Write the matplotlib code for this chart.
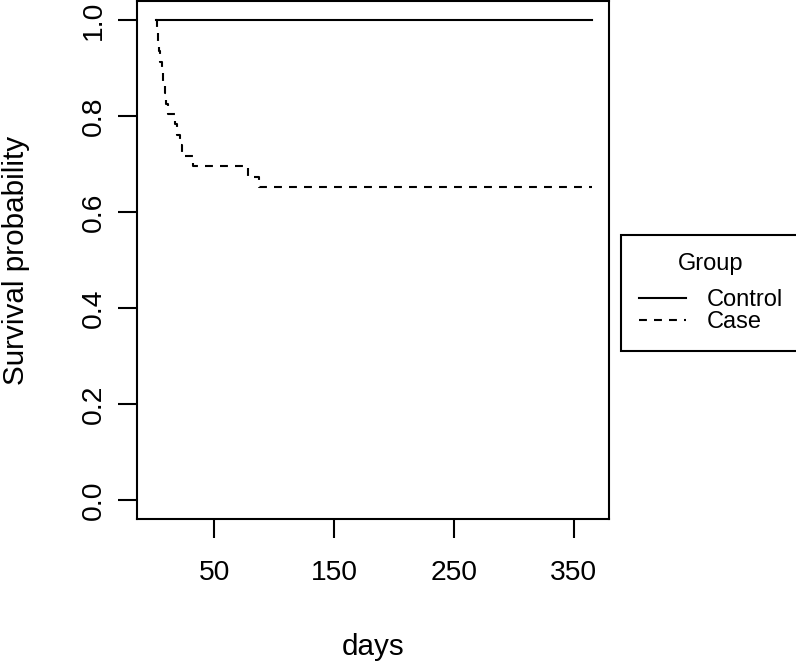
"""Kaplan-Meier style survival curves: Control vs Case."""

import matplotlib
matplotlib.use("Agg")
import matplotlib.pyplot as plt

# step points (days, survival probability after that day)
control_days = [1, 365]
control_surv = [1.0, 1.0]

case_days = [1, 2, 3, 4, 5, 6, 7, 9, 10, 11, 17, 19, 21, 23, 32, 78, 87, 365]
case_surv = [1.0, 0.978, 0.957, 0.935, 0.913, 0.891, 0.870, 0.848, 0.826,
             0.804, 0.783, 0.761, 0.739, 0.717, 0.696, 0.674, 0.652, 0.652]

x_ticks = [50, 150, 250, 350]
y_ticks = [0.0, 0.2, 0.4, 0.6, 0.8, 1.0]
group_labels = ["Control", "Case"]

plt.rcParams["font.family"] = ["Liberation Sans", "DejaVu Sans"]
TICK_FS = 20.3
LAB_FS = 21.3
LEG_FS = 17

fig = plt.figure(figsize=(7.96, 6.63), dpi=100)
ax = fig.add_axes([137 / 796, 1 - 519 / 663, 472 / 796, 518 / 663])

ax.step(control_days, control_surv, where="post", color="black", lw=1.5,
        label=group_labels[0])
ax.step(case_days, case_surv, where="post", color="black", lw=1.5,
        linestyle=(0, (3.8, 3.4)), label=group_labels[1])

# R-style 4% padding around data range
x_lo, x_hi = 0, 365
y_lo, y_hi = 0.0, 1.0
ax.set_xlim(x_lo - 0.04 * (x_hi - x_lo), x_hi + 0.04 * (x_hi - x_lo))
ax.set_ylim(y_lo - 0.04, y_hi + 0.04)

ax.set_xticks(x_ticks)
ax.set_xticklabels([str(t) for t in x_ticks])
ax.set_yticks(y_ticks)
ax.set_yticklabels([f"{t:.1f}" for t in y_ticks], rotation=90, va="center")

for s in ax.spines.values():
    s.set_linewidth(1.5)
ax.tick_params(axis="both", direction="out", length=13.7, width=1.5,
               labelsize=TICK_FS)
ax.tick_params(axis="x", pad=16)
ax.tick_params(axis="y", pad=8)

ax.set_xlabel("days", fontsize=LAB_FS, va="center")
ax.xaxis.set_label_coords(0.5, (519 - 647) / 518)
ax.set_ylabel("Survival probability", fontsize=LAB_FS, va="center")
ax.yaxis.set_label_coords((16 - 137) / 472, 0.5)

leg = ax.legend(title="Group", loc="center left",
                bbox_to_anchor=(1.025, (519 - 293) / 518), fontsize=LEG_FS,
                title_fontsize=LEG_FS, frameon=True, fancybox=False,
                edgecolor="black", framealpha=1, borderpad=0.78,
                handlelength=2.0, handletextpad=0.85, labelspacing=0.0,
                borderaxespad=0)
leg.get_frame().set_linewidth(1.5)
leg._legend_box.sep = 10  # extra room between title and entries

fig.savefig("out.png", dpi=100)
